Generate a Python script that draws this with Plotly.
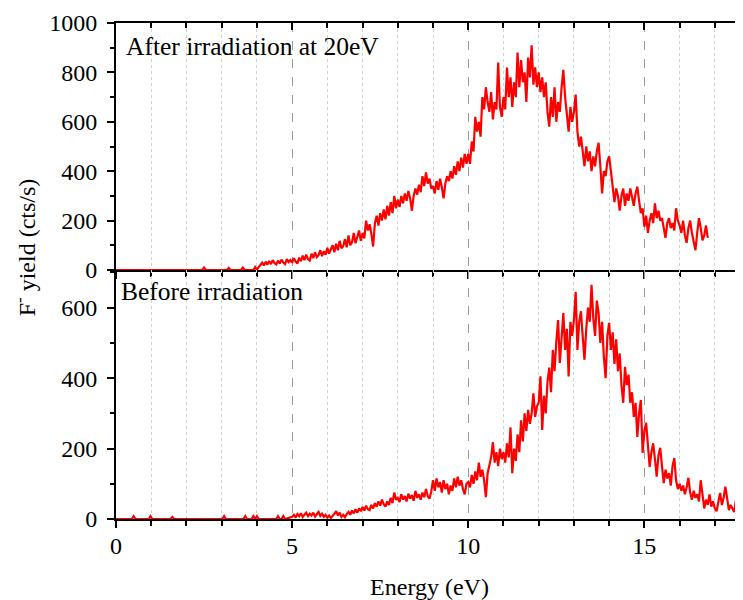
import numpy as np
import plotly.graph_objects as go

# ---------------- data ----------------
E_STEP = 0.05

# "After irradiation at 20eV" (top panel)
top_base_energy = [0.0, 2.45, 2.5, 2.55, 3.15, 3.2, 3.25, 3.55, 3.6, 3.65, 3.9, 3.95]
top_base_yield = [0, 0, 10, 0, 0, 8, 0, 0, 10, 0, 0, 12]
TOP_START = 4.0
top_yield = [
    # 4.00-4.95
    2, 12, 20, 30, 18, 34, 22, 36, 24, 40, 28, 22, 38, 26, 42, 30, 24, 44, 32, 40,
    # 5.00-5.95
    30, 48, 34, 26, 50, 36, 58, 40, 62, 44, 38, 66, 48, 72, 52, 60, 80, 56, 76, 62,
    # 6.00-6.95
    90, 66, 84, 100, 72, 106, 80, 118, 88, 96, 125, 92, 140, 100, 112, 150, 108, 135, 160, 118,
    # 7.00-7.95
    150, 128, 200, 160, 185, 145, 95, 190, 220, 180, 230, 200, 245, 205, 260, 220, 275, 230, 300, 250,
    # 8.00-8.95
    285, 255, 300, 270, 310, 280, 320, 290, 240, 300, 330, 305, 345, 315, 380, 340, 395, 350, 370, 330,
    # 9.00-9.95
    340, 310, 360, 325, 370, 335, 290, 350, 380, 360, 400, 370, 420, 385, 440, 400, 455, 415, 470, 430,
    # 10.00-10.95
    470, 430, 520, 480, 620, 560, 600, 540, 700, 650, 740, 680, 640, 720, 610, 680, 650, 840, 660, 620,
    # 11.00-11.95
    700, 650, 820, 700, 780, 660, 760, 700, 880, 740, 850, 760, 800, 680, 860, 780, 910, 750, 820, 740,
    # 12.00-12.95
    800, 720, 780, 700, 760, 640, 580, 700, 620, 740, 600, 680, 640, 740, 810, 700, 640, 560, 660, 600,
    # 13.00-13.95
    640, 710, 560, 500, 540, 470, 420, 500, 440, 480, 400, 460, 420, 480, 515, 420, 310, 400, 380, 440,
    # 14.00-14.95
    460, 400, 340, 275, 330, 300, 240, 300, 330, 260, 310, 280, 330, 290, 260, 310, 337, 280, 230, 250,
    # 15.00-15.95
    175, 220, 150, 200, 230, 190, 270, 210, 240, 200, 210, 170, 130, 190, 210, 170, 190, 160, 250, 200,
    # 16.00-16.80
    180, 150, 200, 140, 110, 170, 200, 150, 120, 80, 150, 210, 170, 120, 140, 180, 130,
]

# "Before irradiation" (bottom panel)
bot_base_energy = [0.0, 0.45, 0.5, 0.55, 0.93, 0.98, 1.03, 1.55, 1.6, 1.65, 3.02, 3.07, 3.12,
                   3.62, 3.67, 3.72, 3.85, 3.9, 3.95, 4.0, 4.05, 4.55, 4.6, 4.65, 4.7, 4.75, 4.8]
bot_base_yield = [0, 0, 8, 0, 0, 8, 0, 0, 6, 0, 0, 8, 0,
                  0, 8, 0, 0, 8, 0, 8, 0, 0, 8, 0, 0, 8, 0]
BOT_START = 5.0
bot_yield = [
    # 5.00-5.95
    6, 12, 4, 14, 8, 16, 6, 12, 18, 8, 15, 10, 18, 7, 14, 20, 9, 15, 6, 12,
    # 6.00-6.95
    4, 10, 3, 8, 15, 22, 10, 18, 6, 12, 5, 14, 20, 12, 24, 16, 28, 18, 30, 22,
    # 7.00-7.95
    34, 24, 38, 28, 25, 40, 30, 45, 35, 50, 38, 55, 42, 35, 50, 40, 60, 45, 75, 55,
    # 8.00-8.95
    60, 48, 70, 55, 65, 50, 72, 58, 68, 52, 80, 60, 70, 55, 75, 62, 85, 65, 58, 78,
    # 9.00-9.95
    110, 80, 115, 90, 105, 75, 110, 85, 100, 70, 95, 80, 115, 90, 120, 95, 110, 85, 70, 100,
    # 10.00-10.95
    105, 90, 125, 100, 135, 110, 160, 120, 140, 110, 62, 130, 150, 175, 218, 160, 190, 150, 200, 170,
    # 11.00-11.95
    190, 160, 215, 175, 260, 130, 200, 165, 240, 190, 280, 220, 300, 250, 310, 270, 300, 357, 290, 320,
    # 12.00-12.95
    330, 405, 253, 350, 300, 390, 430, 360, 480, 420, 503, 565, 443, 520, 585, 480, 540, 405, 560, 520,
    # 13.00-13.95
    565, 645, 480, 560, 590, 517, 452, 540, 600, 560, 665, 570, 520, 620, 585, 500, 560, 460, 400, 520,
    # 14.00-14.95
    557, 480, 530, 440, 510, 420, 470, 380, 330, 432, 380, 410, 330, 360, 290, 330, 233, 300, 338, 188,
    # 15.00-15.95
    250, 273, 200, 148, 190, 215, 170, 120, 180, 202, 150, 102, 140, 115, 130, 95, 150, 173, 110, 85,
    # 16.00-16.95
    100, 80, 95, 70, 90, 117, 75, 55, 80, 60, 70, 50, 110, 65, 30, 55, 40, 70, 35, 50,
    # 17.00-17.80
    30, 22, 45, 74, 40, 60, 92, 50, 25, 40, 30, 20, 55, 35, 25, 40, 30,
]

label_top = "After irradiation at 20eV"
label_bot = "Before irradiation"
x_title = "Energy (eV)"
y_title = "F<sup>-</sup> yield (cts/s)"
x_range = [0, 17.8]
y_top_range = [0, 1000]
y_bot_range = [0, 707]

# ---------------- build ----------------
top_x = list(top_base_energy) + list(np.round(TOP_START + E_STEP * np.arange(len(top_yield)), 3))
top_y = list(top_base_yield) + list(top_yield)
bot_x = list(bot_base_energy) + list(np.round(BOT_START + E_STEP * np.arange(len(bot_yield)), 3))
bot_y = list(bot_base_yield) + list(bot_yield)

RED = "#ff0000"
FONT = "Liberation Serif, Times New Roman, serif"
TICK_SIZE = 24
ANN_SIZE = 25.5

fig = go.Figure()
fig.add_trace(go.Scatter(x=top_x, y=top_y, mode="lines", line=dict(color=RED, width=2.2),
                         xaxis="x", yaxis="y", showlegend=False, cliponaxis=False))
fig.add_trace(go.Scatter(x=bot_x, y=bot_y, mode="lines", line=dict(color=RED, width=2.2),
                         xaxis="x2", yaxis="y2", showlegend=False, cliponaxis=False))

split = (519 - 270) / 496.0

xcommon = dict(range=x_range, showline=True, linecolor="black", linewidth=2,
               tickcolor="black", tickwidth=2, zeroline=False,
               showgrid=True, gridcolor="#9a9a9a", griddash="dash", gridwidth=1,
               dtick=5, tick0=0,
               minor=dict(dtick=1, tick0=0, ticks="outside", ticklen=5, tickwidth=2,
                          tickcolor="black", showgrid=True, gridcolor="#d2d2d2",
                          griddash="dot", gridwidth=1),
               tickfont=dict(family=FONT, size=TICK_SIZE, color="black"),
               layer="below traces")

ycommon = dict(showline=True, linecolor="black", linewidth=2, tickcolor="black",
               tickwidth=2, ticks="outside", ticklen=7, showgrid=False, zeroline=False,
               dtick=200, tick0=0,
               minor=dict(dtick=100, tick0=0, ticks="outside", ticklen=4, tickwidth=2,
                          tickcolor="black"),
               tickfont=dict(family=FONT, size=TICK_SIZE, color="black"),
               ticklabelstandoff=5, layer="below traces")

fig.update_layout(
    width=735, height=592,
    margin=dict(l=108, r=0, t=15, b=81),
    paper_bgcolor="white", plot_bgcolor="white",
    font=dict(family=FONT, size=TICK_SIZE, color="black"),
    xaxis=dict(**xcommon, anchor="y", ticks="outside", ticklen=7, showticklabels=False,
               matches="x2"),
    xaxis3=dict(range=x_range, overlaying="x", side="top", anchor="y", showline=True,
                linecolor="black", linewidth=2, ticks="inside", ticklen=7, tickwidth=2,
                tickcolor="black", dtick=5, tick0=0, showgrid=False, zeroline=False,
                showticklabels=False,
                minor=dict(dtick=1, tick0=0, ticks="inside", ticklen=5, tickwidth=2,
                           tickcolor="black")),
    xaxis2=dict(**xcommon, anchor="y2", ticks="outside", ticklen=7, showticklabels=True,
                ticklabelstandoff=-3,
                title=dict(text=x_title, standoff=21,
                           font=dict(family=FONT, size=TICK_SIZE, color="black"))),
    yaxis=dict(**ycommon, range=y_top_range, domain=[split, 1], anchor="x"),
    yaxis2=dict(**ycommon, range=y_bot_range, domain=[0, split], anchor="x2"),
    annotations=[
        dict(text=label_top, xref="paper", yref="paper", x=0.012, y=0.952,
             xanchor="left", yanchor="middle", showarrow=False,
             font=dict(family=FONT, size=ANN_SIZE, color="black")),
        dict(text=label_bot, xref="paper", yref="paper", x=0.004, y=0.458,
             xanchor="left", yanchor="middle", showarrow=False,
             font=dict(family=FONT, size=ANN_SIZE, color="black")),
        dict(text=y_title, xref="paper", yref="paper", x=-0.145, y=0.548,
             xanchor="center", yanchor="middle", textangle=-90, showarrow=False,
             font=dict(family=FONT, size=TICK_SIZE, color="black")),
    ],
)
# dummy trace to activate xaxis3
fig.add_trace(go.Scatter(x=[None], y=[None], xaxis="x3", yaxis="y", showlegend=False,
                         hoverinfo="skip"))

fig.write_html("out.html")
